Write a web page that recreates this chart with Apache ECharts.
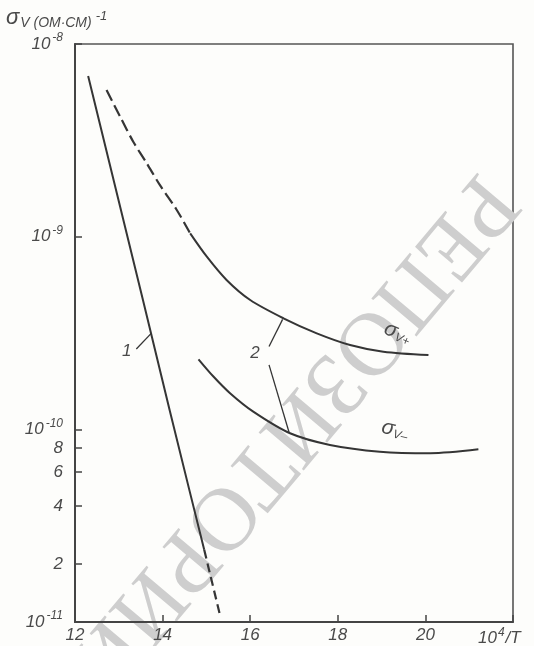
<!DOCTYPE html>
<html><head><meta charset="utf-8">
<script src="https://cdn.jsdelivr.net/npm/echarts@6/dist/echarts.min.js"></script>
<style>html,body{margin:0;padding:0;background:#fdfdfb}#c{width:534px;height:646px}</style>
</head><body><div id="c"></div>
<script>
// axis ticks
const xTickLabels = [12, 14, 16, 18, 20];
const yTickValues = [1e-11, 2e-11, 4e-11, 6e-11, 8e-11, 1e-10, 1e-9, 1e-8];

// curve 1 (solid part + dashed tail)
const curve1X = [12.30, 13.55, 14.16, 14.61, 14.95];
const curve1Y = [6.82e-9, 4.70e-10, 1.26e-10, 4.85e-11, 2.37e-11];
const curve1DashX = [14.95, 15.30];
const curve1DashY = [2.37e-11, 1.11e-11];

// sigma V+ (dashed start + solid)
const plusDashX = [12.72, 13.03, 13.33, 13.64, 13.94, 14.32, 14.63];
const plusDashY = [5.77e-9, 4.20e-9, 3.11e-9, 2.40e-9, 1.85e-9, 1.38e-9, 1.04e-9];
const plusX = [14.63, 15.01, 15.46, 16.00, 16.76, 17.52, 18.28, 19.04, 20.07];
const plusY = [1.04e-9, 7.87e-10, 5.96e-10, 4.69e-10, 3.77e-10, 3.15e-10, 2.74e-10, 2.53e-10, 2.43e-10];

// sigma V-
const minusX = [14.82, 15.16, 15.54, 16.07, 16.91, 17.82, 18.96, 20.11, 21.21];
const minusY = [2.31e-10, 1.88e-10, 1.54e-10, 1.235e-10, 9.54e-11, 8.30e-11, 7.66e-11, 7.52e-11, 7.88e-11];

// annotations (data coordinates)
const label1 = {text: '1', at: [13.18, 2.53e-10]};
const label2 = {text: '2', at: [16.11, 2.48e-10]};
const leader1 = [[13.40, 2.61e-10], [13.74, 3.15e-10]];
const leader2a = [[16.43, 2.69e-10], [16.74, 3.72e-10]];
const leader2b = [[16.43, 2.16e-10], [16.89, 9.6e-11]];
const labelPlus = {at: [19.37, 3.16e-10]};
const labelMinus = {at: [19.31, 9.93e-11]};

const INK = '#353535';
const TXT = '#4a4a4a';
const FONT = '"Liberation Sans Narrow","Liberation Sans","DejaVu Sans",sans-serif';

function zip(xs, ys) { return xs.map((x, i) => [x, ys[i]]); }

function yFmt(v) {
  const e = Math.floor(Math.log10(v) + 1e-9);
  const m = Math.round(v / Math.pow(10, e));
  if (m === 1) return '{b|10}{e|' + e + '}';
  return '{b|' + m + '}';
}

const chart = echarts.init(document.getElementById('c'), null, {renderer: 'canvas'});

const lineBase = {type: 'line', showSymbol: false, symbol: 'none', silent: true, z: 3};

chart.setOption({
  backgroundColor: '#fdfdfb',
  animation: false,
  grid: {left: 75, right: 21, top: 44, bottom: 24, show: true, borderColor: '#555', borderWidth: 1.6, backgroundColor: 'transparent'},
  xAxis: {
    type: 'value', min: 12, max: 22, interval: 2,
    axisLine: {show: true, lineStyle: {color: '#444', width: 2}},
    axisTick: {show: true, inside: true, length: 7, lineStyle: {color: '#444', width: 1.5}},
    splitLine: {show: false},
    axisLabel: {
      margin: 5, color: TXT, fontSize: 17, fontStyle: 'italic', fontFamily: FONT,
      formatter: v => xTickLabels.indexOf(v) >= 0 ? String(v) : ''
    }
  },
  yAxis: {
    type: 'log', logBase: 10, min: 1e-11, max: 1e-8,
    axisLine: {show: true, lineStyle: {color: '#444', width: 2}},
    axisTick: {show: true, inside: true, length: 7, lineStyle: {color: '#444', width: 1.5}, customValues: yTickValues},
    splitLine: {show: false},
    minorTick: {show: false},
    axisLabel: {
      customValues: yTickValues,
      margin: 12, color: TXT, fontFamily: FONT,
      formatter: yFmt,
      rich: {
        b: {fontSize: 17, fontStyle: 'italic', color: TXT, fontFamily: FONT},
        e: {fontSize: 12, fontStyle: 'italic', color: TXT, fontFamily: FONT, padding: [0, 0, 12, 2]}
      }
    }
  },
  series: [
    Object.assign({}, lineBase, {data: zip(curve1X, curve1Y), lineStyle: {color: INK, width: 2}}),
    Object.assign({}, lineBase, {data: zip(curve1DashX, curve1DashY), lineStyle: {color: INK, width: 2.2, type: [9, 5]}}),
    Object.assign({}, lineBase, {data: zip(plusDashX, plusDashY), smooth: 0.3, lineStyle: {color: INK, width: 2.2, type: [12, 5]}}),
    Object.assign({}, lineBase, {data: zip(plusX, plusY), smooth: 0.3, lineStyle: {color: INK, width: 2}}),
    Object.assign({}, lineBase, {data: zip(minusX, minusY), smooth: 0.3, lineStyle: {color: INK, width: 2}})
  ]
});

function px(p) { return chart.convertToPixel({gridIndex: 0}, p); }
function seg(a, b, w) {
  const p = px(a), q = px(b);
  return {type: 'line', z: 5, shape: {x1: p[0], y1: p[1], x2: q[0], y2: q[1]}, style: {stroke: INK, lineWidth: w || 1.3}, silent: true};
}
function txt(at, text, rich, rot, size) {
  const p = px(at);
  return {type: 'text', z: 5, x: p[0], y: p[1], rotation: rot || 0,
    style: {text: text, rich: rich, fill: TXT, font: 'italic ' + (size || 17) + 'px ' + FONT, align: 'center', verticalAlign: 'middle'}, silent: true};
}
const sigRich = {
  s: {fontSize: 21, fontStyle: 'italic', fill: TXT, fontFamily: FONT},
  v: {fontSize: 12, fontStyle: 'italic', fill: TXT, fontFamily: FONT, padding: [9, 0, 0, 0]}
};

chart.setOption({
  graphic: [
    // watermark
    {type: 'text', z: 0, x: 290, y: 432, rotation: -2.27, silent: true,
      style: {text: 'РЕПОЗИТОРИЙ', fill: '#cecece', font: '90px "Liberation Serif","DejaVu Serif",serif', align: 'center', verticalAlign: 'middle'}},
    // axis titles
    {type: 'text', z: 5, x: 6, y: 6, silent: true,
      style: {text: '{s|σ}{v|V (ОМ·СМ)}{p|-1}', rich: {
        s: {fontSize: 22, fontStyle: 'italic', fill: TXT, fontFamily: FONT},
        v: {fontSize: 14, fontStyle: 'italic', fill: TXT, fontFamily: FONT, padding: [10, 0, 0, 1]},
        p: {fontSize: 13, fontStyle: 'italic', fill: TXT, fontFamily: FONT, padding: [0, 0, 4, 4]}
      }, align: 'left', verticalAlign: 'top'}},
    {type: 'text', z: 5, x: 478, y: 627, silent: true,
      style: {text: '{b|10}{e|4}{b|/T}', rich: {
        b: {fontSize: 17, fontStyle: 'italic', fill: TXT, fontFamily: FONT},
        e: {fontSize: 12, fontStyle: 'italic', fill: TXT, fontFamily: FONT, padding: [0, 1, 10, 1]}
      }, align: 'left', verticalAlign: 'top'}},
    // annotations
    seg(leader1[0], leader1[1]),
    seg(leader2a[0], leader2a[1]),
    seg(leader2b[0], leader2b[1]),
    txt(label1.at, label1.text, null, 0, 17),
    txt(label2.at, label2.text, null, 0, 17),
    txt(labelPlus.at, '{s|σ}{v|V+}', sigRich, -0.4, 17),
    txt(labelMinus.at, '{s|σ}{v|V–}', sigRich, -0.25, 17)
  ]
});
</script>
</body></html>
